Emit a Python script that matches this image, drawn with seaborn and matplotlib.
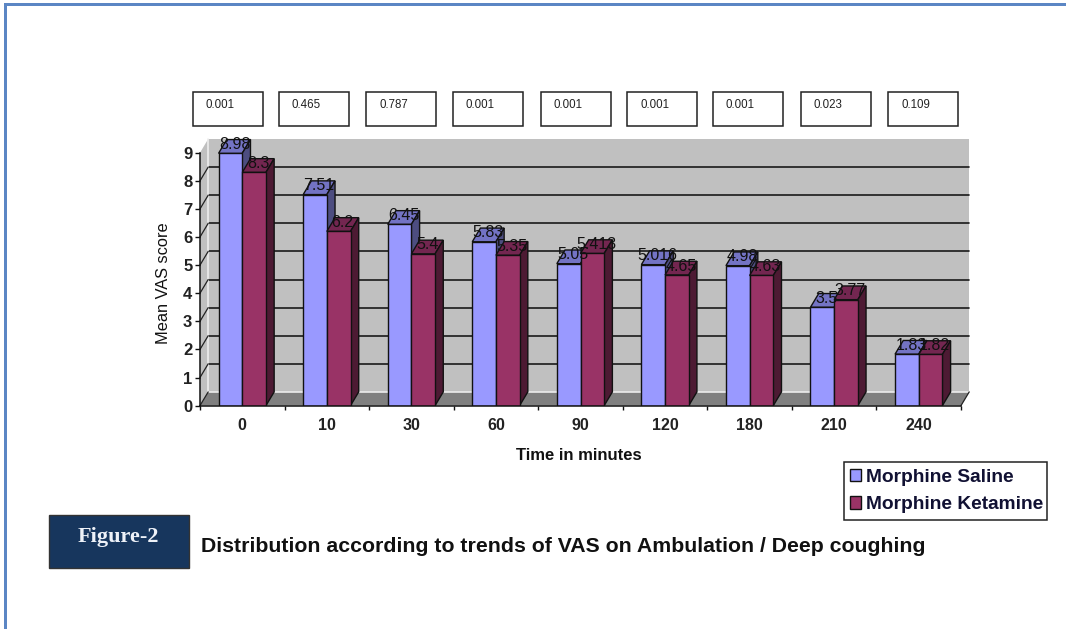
import numpy as np
import pandas as pd
import matplotlib
matplotlib.use("Agg")
import matplotlib.pyplot as plt
import seaborn as sns
from matplotlib.patches import Polygon, Rectangle
from matplotlib.lines import Line2D

times = ["0", "10", "30", "60", "90", "120", "180", "210", "240"]
saline = [8.98, 7.51, 6.45, 5.83, 5.05, 5.016, 4.98, 3.5, 1.83]
ketamine = [8.3, 6.2, 5.4, 5.35, 5.413, 4.65, 4.63, 3.77, 1.82]
p_values = ["0.001", "0.465", "0.787", "0.001", "0.001", "0.001", "0.001", "0.023", "0.109"]
series_names = ["Morphine Saline", "Morphine Ketamine"]
colors = ["#9999FF", "#993366"]
top_colors = ["#7373C4", "#732650"]
side_colors = ["#4D4D80", "#4D1A33"]
box_left_px = [193, 279, 366, 453, 541, 627, 713, 801, 888]

W, H = 1066, 629
sns.set_theme(style="white")
plt.rcParams["font.family"] = ["Liberation Sans", "DejaVu Sans"]
fig = plt.figure(figsize=(W / 100, H / 100), dpi=100, facecolor="white")

def fx(p): return p / W
def fy(p): return 1 - p / H

L, R, T, B = 200, 961, 152.7, 405.6
ax = fig.add_axes([fx(L), fy(B), fx(R - L), (B - T) / H])
ax.patch.set_alpha(0)

df = pd.DataFrame({
    "time": times * 2,
    "value": saline + ketamine,
    "series": [series_names[0]] * 9 + [series_names[1]] * 9,
})
sns.barplot(data=df, x="time", y="value", hue="series", order=times, hue_order=series_names,
            palette=colors, width=0.56, gap=0, saturation=1, edgecolor="#111111", linewidth=1,
            legend=False, ax=ax)
ax.set_xlim(-0.5, 8.5)
ax.set_ylim(0, 9)
dx, dy = 8.2 / ((R - L) / 9), 13.7 / ((B - T) / 9)

# back wall, side wall, floor
kw = dict(clip_on=False, linewidth=0)
ax.add_patch(Polygon([(-.5 + dx, dy), (8.5 + dx, dy), (8.5 + dx, 9 + dy), (-.5 + dx, 9 + dy)], fc="#C0C0C0", zorder=0, **kw))
ax.add_patch(Polygon([(-.5, 0), (-.5 + dx, dy), (-.5 + dx, 9 + dy), (-.5, 9)], fc="#C0C0C0", zorder=0, **kw))
ax.add_patch(Polygon([(-.5, 0), (8.5, 0), (8.5 + dx, dy), (-.5 + dx, dy)], fc="#808080", zorder=0.5, **kw))
for lv in range(1, 9):
    ax.add_line(Line2D([-.5 + dx, 8.5 + dx], [lv + dy] * 2, color="#1a1a1a", lw=1.2, zorder=1, clip_on=False))
ax.add_line(Line2D([-.5 + dx, -.5 + dx, 8.5 + dx], [9 + dy, dy, dy], color="#EDEDED", lw=1.2, zorder=1, clip_on=False))
for lv in range(0, 9):
    ax.add_line(Line2D([-.5, -.5 + dx], [lv, lv + dy], color="#222222", lw=0.9, zorder=1.5, clip_on=False))
ax.add_line(Line2D([8.5, 8.5 + dx], [0, dy], color="#222222", lw=0.9, zorder=1.5, clip_on=False))

# 3-D extrusion of the library's bars
for s, cont in enumerate(ax.containers):
    for bar, v in zip(cont.patches, [saline, ketamine][s]):
        x0, w, h = bar.get_x(), bar.get_width(), bar.get_height()
        bar.set_zorder(4 + 2 * s)
        z = 3 + 2 * s
        ec = dict(ec="#111111", lw=1, zorder=z, clip_on=False)
        ax.add_patch(Polygon([(x0, h), (x0 + w, h), (x0 + w + dx, h + dy), (x0 + dx, h + dy)], fc=top_colors[s], **ec))
        ax.add_patch(Polygon([(x0 + w, 0), (x0 + w + dx, dy), (x0 + w + dx, h + dy), (x0 + w, h)], fc=side_colors[s], **ec))
        ax.text(x0 + w / 2 + dx / 2, h + dy * 0.65, f"{v:g}", ha="center", va="center", fontsize=11.5,
                color="#111111", zorder=10, clip_on=False)

# axes
for sp in ["top", "right"]:
    ax.spines[sp].set_visible(False)
for sp in ["left", "bottom"]:
    ax.spines[sp].set_visible(True)
    ax.spines[sp].set_color("#111111")
    ax.spines[sp].set_linewidth(1.1)
    ax.spines[sp].set_zorder(8)
ax.set_yticks(range(10))
ax.set_xticks(np.arange(-.5, 9, 1))
ax.set_xticklabels([])
ax.set_xticks(np.arange(9), minor=True)
ax.set_xticklabels(times, minor=True, fontsize=11.5, fontweight="bold", color="#222222")
ax.tick_params(axis="x", which="major", length=3, width=1, color="#111111", bottom=True)
ax.tick_params(axis="x", which="minor", length=0, pad=9)
ax.tick_params(axis="y", length=3.5, width=1, color="#111111", left=True, pad=2, labelsize=12, labelcolor="#222222")
for t in ax.get_yticklabels():
    t.set_fontweight("bold")
ax.set_xlabel("")
ax.set_ylabel("")

fig.text(fx(579), fy(455), "Time in minutes", ha="center", va="center", fontsize=12, fontweight="bold", color="#111111")
fig.text(fx(164), fy(283), "Mean VAS score", ha="center", va="center", rotation=90, fontsize=11.8, color="#111111")

# p-value boxes
for left, p in zip(box_left_px, p_values):
    fig.add_artist(Rectangle((fx(left), fy(126)), 70 / W, 34 / H, transform=fig.transFigure,
                             fc="white", ec="#222222", lw=1.1))
    fig.text(fx(left + 13), fy(105), p, ha="left", va="center", fontsize=8.3, color="#222222")

# legend
fig.add_artist(Rectangle((fx(844), fy(520)), 203 / W, 58 / H, transform=fig.transFigure,
                         fc="white", ec="#222222", lw=1.1))
handles = [c.patches[0] for c in ax.containers]
leg = fig.legend(handles, series_names, loc="upper left",
                 bbox_to_anchor=(fx(844), fy(463)), bbox_transform=fig.transFigure,
                 borderaxespad=0, borderpad=0.3, labelspacing=0.55, handlelength=0.6, handleheight=0.6,
                 handletextpad=0.25, frameon=False,
                 prop=dict(size=13.8, weight="bold", family="Liberation Sans"))
for t in leg.get_texts():
    t.set_color("#111133")

# caption
fig.add_artist(Rectangle((fx(49), fy(568)), 140 / W, 53 / H, transform=fig.transFigure,
                         fc="#17365D", ec="#333333", lw=1))
fig.text(fx(118), fy(537), "Figure-2", ha="center", va="center", fontsize=16, fontweight="bold",
         family="Liberation Serif", color="#EEF2F8")
fig.text(fx(201), fy(546), "Distribution according to trends of VAS on Ambulation / Deep coughing",
         ha="left", va="center", fontsize=15.3, fontweight="bold", color="#111111")

# page border
border = "#5B86C4"
fig.add_artist(Rectangle((fx(4), 0), 3 / W, 1 - 3 / H, transform=fig.transFigure, fc=border, ec="none"))
fig.add_artist(Rectangle((fx(4), fy(6)), 1 - 4 / W, 3 / H, transform=fig.transFigure, fc=border, ec="none"))

fig.savefig("out.png", dpi=100)
